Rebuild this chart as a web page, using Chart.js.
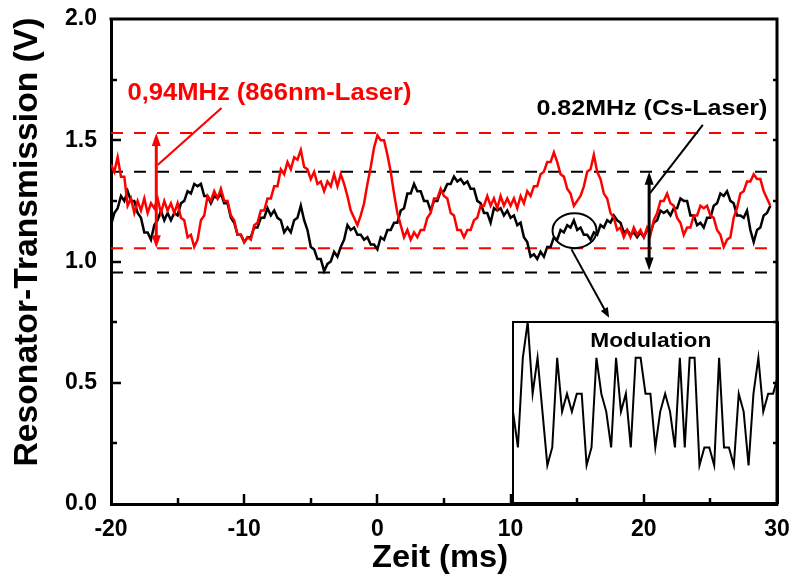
<!DOCTYPE html>
<html>
<head>
<meta charset="utf-8">
<script src="https://cdn.jsdelivr.net/npm/chart.js@4.4.0/dist/chart.umd.min.js"></script>
<style>
  html, body { margin: 0; padding: 0; background: #fff; }
  #wrap { position: relative; width: 792px; height: 576px; }
  #main { position: absolute; left: 0; top: 0; width: 792px; height: 576px; }
  #inset { position: absolute; left: 512px; top: 321px; width: 267px; height: 183px; }
</style>
</head>
<body>
<div id="wrap">
  <canvas id="main" width="792" height="576"></canvas>
  <canvas id="inset" width="267" height="183"></canvas>
</div>
<script>
// Oscilloscope traces, sampled every 0.25 ms starting at -20 ms
const START_MS = -20;
const STEP_MS = 0.25;

// Resonator transmission with the 866 nm laser (V)
const trace866 = [
  1.40,1.37,1.43,1.35,1.35,1.23,1.26,1.20,1.25,1.21,1.26,1.20,1.24,1.22,1.26,1.20,1.25,1.21,1.24,1.20,
  1.24,1.18,1.17,1.10,1.11,1.06,1.09,1.17,1.19,1.27,1.25,1.29,1.26,1.30,1.25,1.25,1.19,1.17,1.11,1.11,
  1.08,1.10,1.09,1.15,1.16,1.21,1.21,1.26,1.26,1.31,1.31,1.38,1.36,1.41,1.38,1.43,1.42,1.46,1.39,1.38,
  1.34,1.37,1.32,1.33,1.29,1.33,1.31,1.36,1.31,1.36,1.32,1.27,1.21,1.18,1.15,1.19,1.24,1.32,1.39,1.47,
  1.52,1.50,1.50,1.44,1.37,1.28,1.20,1.15,1.10,1.13,1.09,1.12,1.10,1.13,1.13,1.18,1.20,1.26,1.26,1.30,
  1.27,1.26,1.20,1.19,1.13,1.13,1.10,1.13,1.13,1.17,1.18,1.23,1.23,1.27,1.23,1.26,1.22,1.27,1.23,1.26,
  1.23,1.26,1.22,1.27,1.24,1.29,1.27,1.31,1.31,1.36,1.37,1.41,1.41,1.45,1.41,1.36,1.35,1.30,1.28,1.23,
  1.25,1.27,1.31,1.37,1.38,1.44,1.37,1.34,1.28,1.26,1.20,1.18,1.13,1.14,1.10,1.13,1.10,1.14,1.11,1.13,
  1.10,1.14,1.11,1.17,1.20,1.25,1.25,1.28,1.24,1.23,1.18,1.16,1.11,1.14,1.14,1.19,1.19,1.23,1.22,1.23,
  1.19,1.18,1.13,1.11,1.06,1.09,1.10,1.18,1.22,1.28,1.29,1.33,1.33,1.36,1.34,1.34,1.29,1.26,1.23
];

// Resonator transmission with the Cs laser (V)
const traceCs = [
  1.15,1.20,1.22,1.27,1.25,1.29,1.25,1.25,1.20,1.18,1.12,1.12,1.09,1.15,1.17,1.21,1.17,1.20,1.17,1.20,
  1.19,1.24,1.25,1.29,1.28,1.32,1.31,1.32,1.27,1.27,1.24,1.27,1.26,1.28,1.24,1.24,1.18,1.16,1.11,1.11,
  1.08,1.10,1.10,1.14,1.14,1.18,1.18,1.22,1.19,1.21,1.18,1.17,1.12,1.14,1.12,1.17,1.18,1.23,1.17,1.13,
  1.06,1.05,1.01,1.01,0.96,0.99,1.00,1.04,1.02,1.06,1.09,1.15,1.13,1.14,1.11,1.11,1.09,1.10,1.07,1.07,
  1.05,1.10,1.09,1.13,1.13,1.16,1.16,1.21,1.22,1.28,1.28,1.32,1.29,1.29,1.25,1.25,1.21,1.25,1.25,1.29,
  1.29,1.32,1.32,1.35,1.33,1.34,1.32,1.33,1.30,1.30,1.25,1.24,1.20,1.20,1.16,1.22,1.21,1.22,1.19,1.21,
  1.18,1.19,1.15,1.16,1.10,1.08,1.02,1.03,1.01,1.04,1.02,1.06,1.06,1.10,1.09,1.13,1.12,1.15,1.14,1.17,
  1.13,1.14,1.11,1.11,1.09,1.12,1.11,1.15,1.14,1.17,1.16,1.19,1.17,1.16,1.12,1.13,1.11,1.12,1.10,1.12,
  1.10,1.13,1.12,1.16,1.17,1.21,1.20,1.21,1.19,1.22,1.22,1.26,1.25,1.25,1.19,1.19,1.15,1.16,1.14,1.18,
  1.18,1.23,1.24,1.28,1.27,1.29,1.25,1.24,1.19,1.19,1.18,1.21,1.13,1.08,1.13,1.14,1.19,1.20,1.23
];

// Upper / lower envelope of each trace (V)
const bounds866 = [1.53, 1.055];
const boundsCs = [1.37, 0.955];

// Modulation signal shown in the inset (quantised levels, arbitrary units)
const modulation = [
  3,1,6,8,4,6,3,0,1,6,3,4,3,4,4,0,1,6,4,3,1,6,3,4,1,6,6,4,4,1,
  3,4,3,1,6,1,6,6,0,1,1,0,6,1,1,0,4,3,0,4,6,3,4,4,5
];

// Axis ranges and ticks
const X_RANGE = [-20, 30];
const Y_RANGE = [0, 2];
const X_MAJOR = 10, X_MINOR = 5;
const Y_MAJOR = 0.5, Y_MINOR = 0.25;

const FONT = '"Liberation Sans", Arial, Helvetica, sans-serif';
const RED = '#ff0000';
const BLACK = '#000000';

const toPoints = arr => arr.map((v, i) => ({ x: START_MS + i * STEP_MS, y: v }));
const hLine = v => [{ x: X_RANGE[0], y: v }, { x: X_RANGE[1], y: v }];

function fitText(ctx, text, x, y, size, width, align, color) {
  ctx.save();
  ctx.font = 'bold ' + size + 'px ' + FONT;
  const w = ctx.measureText(text).width;
  ctx.translate(x, y);
  ctx.scale(width / w, 1);
  ctx.textAlign = align;
  ctx.textBaseline = 'alphabetic';
  ctx.fillStyle = color;
  ctx.fillText(text, 0, 0);
  ctx.restore();
}

function arrowHead(ctx, x1, y1, x2, y2, len, half) {
  const a = Math.atan2(y2 - y1, x2 - x1);
  const c = Math.cos(a), s = Math.sin(a);
  ctx.beginPath();
  ctx.moveTo(x2, y2);
  ctx.lineTo(x2 - len * c + half * s, y2 - len * s - half * c);
  ctx.lineTo(x2 - len * c - half * s, y2 - len * s + half * c);
  ctx.closePath();
  ctx.fill();
}

function doubleArrow(ctx, x, yTop, yBot, color) {
  const len = 13, half = 4.5;
  ctx.save();
  ctx.strokeStyle = color; ctx.fillStyle = color; ctx.lineWidth = 3;
  ctx.beginPath();
  ctx.moveTo(x, yTop + len * 0.7);
  ctx.lineTo(x, yBot - len * 0.7);
  ctx.stroke();
  arrowHead(ctx, x, yBot, x, yTop, len, half);
  arrowHead(ctx, x, yTop, x, yBot, len, half);
  ctx.restore();
}

function segment(ctx, x1, y1, x2, y2, color, width) {
  ctx.save();
  ctx.strokeStyle = color; ctx.lineWidth = width;
  ctx.beginPath(); ctx.moveTo(x1, y1); ctx.lineTo(x2, y2); ctx.stroke();
  ctx.restore();
}

// Frame, inward ticks, annotations and axis titles
const decorations = {
  id: 'decorations',
  afterDatasetsDraw(chart) {
    const ctx = chart.ctx;
    const xs = chart.scales.x, ys = chart.scales.y;
    const X = t => xs.getPixelForValue(t);
    const Y = v => ys.getPixelForValue(v);

    // envelope arrows
    doubleArrow(ctx, X(-16.6), Y(bounds866[0]), Y(bounds866[1]), RED);
    doubleArrow(ctx, X(20.4), Y(boundsCs[0]), Y(boundsCs[1] + 0.008), BLACK);

    // leader lines from the labels to the arrows
    segment(ctx, X(-11.7), Y(1.633), X(-16.5), Y(1.398), RED, 2.2);
    segment(ctx, X(24.43), Y(1.563), X(20.45), Y(1.281), BLACK, 2);

    // marked section of the Cs trace and pointer to the inset
    ctx.save();
    ctx.strokeStyle = BLACK; ctx.lineWidth = 2;
    ctx.beginPath();
    ctx.ellipse(X(14.8), Y(1.127), 22, 17.5, 0, 0, Math.PI * 2);
    ctx.stroke();
    ctx.restore();
    const ax1 = X(14.57), ay1 = Y(1.05), ax2 = X(17.4), ay2 = Y(0.768);
    ctx.save();
    ctx.fillStyle = BLACK;
    segment(ctx, ax1, ay1, ax1 + (ax2 - ax1) * 0.9, ay1 + (ay2 - ay1) * 0.9, BLACK, 2);
    arrowHead(ctx, ax1, ay1, ax2, ay2, 10, 4);
    ctx.restore();

    // labels
    fitText(ctx, '0,94MHz (866nm-Laser)', X(-18.76), Y(1.666), 23, 284, 'left', RED);
    fitText(ctx, '0.82MHz (Cs-Laser)', X(11.94), Y(1.604), 22.5, 231, 'left', BLACK);
  },
  afterDraw(chart) {
    const ctx = chart.ctx;
    const { left, right, top, bottom } = chart.chartArea;
    const xs = chart.scales.x, ys = chart.scales.y;

    ctx.save();
    ctx.strokeStyle = BLACK;
    ctx.lineWidth = 3;
    ctx.lineCap = 'butt';
    // top and right frame
    ctx.beginPath();
    ctx.moveTo(left - 1.5, top);
    ctx.lineTo(right, top);
    ctx.lineTo(right, bottom + 1.5);
    ctx.stroke();

    ctx.lineWidth = 2.5;
    // bottom ticks (inward)
    for (let t = X_RANGE[0] + X_MINOR; t < X_RANGE[1]; t += X_MINOR) {
      const px = Math.round(xs.getPixelForValue(t));
      const len = (t % X_MAJOR === 0) ? 10 : 6;
      ctx.beginPath(); ctx.moveTo(px, bottom); ctx.lineTo(px, bottom - len); ctx.stroke();
    }
    // left and right ticks (inward)
    for (let v = Y_RANGE[0] + Y_MINOR; v < Y_RANGE[1] - 1e-9; v += Y_MINOR) {
      const py = Math.round(ys.getPixelForValue(v));
      const major = Math.abs(v / Y_MAJOR - Math.round(v / Y_MAJOR)) < 1e-6;
      const len = major ? 10 : 6;
      ctx.beginPath(); ctx.moveTo(left, py); ctx.lineTo(left + len, py); ctx.stroke();
      ctx.beginPath(); ctx.moveTo(right, py); ctx.lineTo(right - 4, py); ctx.stroke();
    }
    ctx.restore();

    // axis titles
    fitText(ctx, 'Zeit (ms)', 440, 567, 31, 136, 'center', BLACK);
    ctx.save();
    ctx.translate(37, 242);
    ctx.rotate(-Math.PI / 2);
    fitText(ctx, 'Resonator-Transmission (V)', 0, 0, 33, 449, 'center', BLACK);
    ctx.restore();
  }
};

const dashed = (v, color) => ({
  data: hLine(v), borderColor: color, borderWidth: 2, borderDash: [12, 11],
  pointRadius: 0, order: 5, fill: false
});

new Chart(document.getElementById('main'), {
  type: 'line',
  data: {
    datasets: [
      { data: toPoints(traceCs), borderColor: BLACK, borderWidth: 2.5, pointRadius: 0, order: 2, fill: false },
      { data: toPoints(trace866), borderColor: RED, borderWidth: 2.5, pointRadius: 0, order: 1, fill: false },
      dashed(bounds866[0], RED),
      dashed(bounds866[1], RED),
      dashed(boundsCs[0], BLACK),
      dashed(boundsCs[1], BLACK)
    ]
  },
  options: {
    responsive: false,
    animation: false,
    events: [],
    layout: { padding: { left: 0, top: 19, right: 15, bottom: 0 } },
    plugins: { legend: { display: false }, tooltip: { enabled: false } },
    scales: {
      x: {
        type: 'linear', min: X_RANGE[0], max: X_RANGE[1],
        afterFit(s) { s.height = 72; s.paddingLeft = 0; s.paddingRight = 0; },
        grid: { display: false, drawTicks: false },
        border: { display: true, color: BLACK, width: 3 },
        ticks: { stepSize: X_MAJOR, color: BLACK, padding: 12, font: { family: FONT, size: 23, weight: 'bold' } }
      },
      y: {
        type: 'linear', min: Y_RANGE[0], max: Y_RANGE[1],
        afterFit(s) { s.width = 111; s.paddingTop = 0; s.paddingBottom = 0; },
        grid: { display: false, drawTicks: false },
        border: { display: true, color: BLACK, width: 3 },
        ticks: { stepSize: Y_MAJOR, color: BLACK, padding: 14, callback: v => Number(v).toFixed(1),
                 font: { family: FONT, size: 23, weight: 'bold' } }
      }
    }
  },
  plugins: [decorations]
});

// Inset: box and title for the modulation signal
const insetFrame = {
  id: 'insetFrame',
  afterDraw(chart) {
    const ctx = chart.ctx;
    const { left, top, right, bottom } = chart.chartArea;
    ctx.save();
    ctx.strokeStyle = BLACK;
    ctx.lineWidth = 2;
    ctx.strokeRect(left, top, right - left, bottom - top);
    ctx.restore();
    fitText(ctx, 'Modulation', left + (right - left) * 0.52, top + 25, 20, 121, 'center', BLACK);
  }
};

new Chart(document.getElementById('inset'), {
  type: 'line',
  data: {
    datasets: [{
      data: modulation.map((v, i) => ({ x: i, y: v })),
      borderColor: BLACK, borderWidth: 2, pointRadius: 0, fill: false, clip: false
    }]
  },
  options: {
    responsive: false,
    animation: false,
    events: [],
    layout: { padding: { left: 1, top: 1, right: 1, bottom: 1 } },
    plugins: { legend: { display: false }, tooltip: { enabled: false } },
    scales: {
      x: { type: 'linear', display: false, min: 0, max: modulation.length - 1 },
      y: { type: 'linear', display: false, min: -2.1, max: 8 }
    }
  },
  plugins: [insetFrame]
});
</script>
</body>
</html>
